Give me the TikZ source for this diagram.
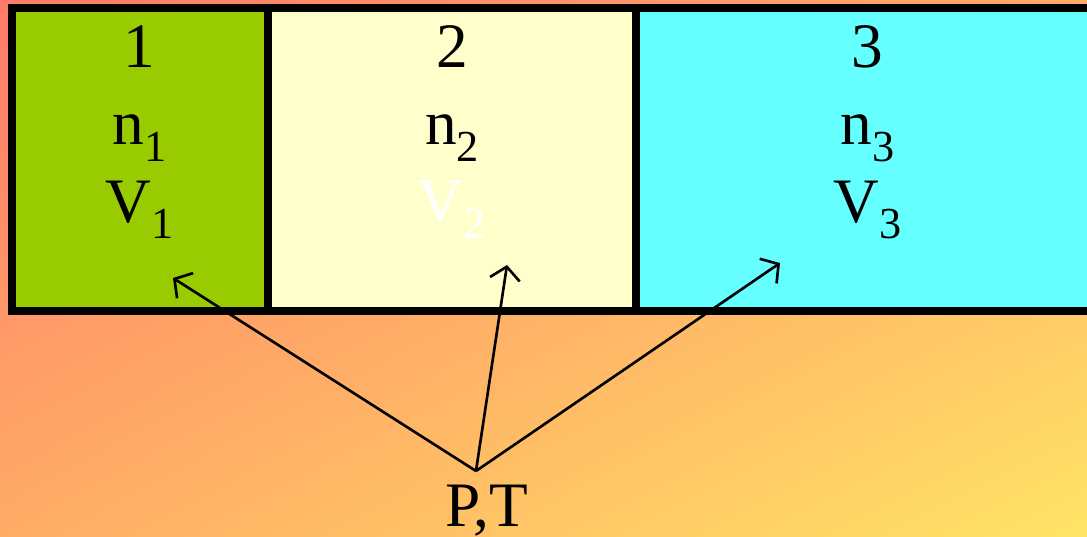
\documentclass[tikz,border=0pt]{standalone}
\usepackage{fontspec}
\setmainfont{Liberation Serif}
\usetikzlibrary{arrows.meta,positioning,shadings}
\definecolor{bgtl}{RGB}{255,122,106}
\definecolor{bgmid}{RGB}{255,172,102}
\definecolor{bgbr}{RGB}{255,228,102}
\definecolor{gasone}{RGB}{153,204,0}
\definecolor{gastwo}{RGB}{255,255,204}
\definecolor{gasthree}{RGB}{102,255,255}
\newcommand{\lowsub}[1]{\raisebox{-4.8pt}{\fontsize{12.6}{12.6}\selectfont #1}}
\tikzset{
  cell/.style={
    draw=black, line width=0.08cm, rectangle,
    minimum height=3.03cm, inner sep=0pt, outer sep=0pt
  },
  lbl/.style={font=\fontsize{18}{18}\selectfont, inner sep=0pt, anchor=base},
  arr/.style={-{Straight Barb[length=3.6pt,width=8.5pt]}, draw=black, line width=0.75pt}
}

\begin{document}
\begin{tikzpicture}[x=0.01cm, y=-0.01cm]
  \shade[upper left=bgtl, lower right=bgbr, upper right=bgmid, lower left=bgmid]
    (0,0) rectangle (1087,537);
  \useasboundingbox (0,0) rectangle (1087,537);

  % three compartments
  \node[cell, fill=gasone, minimum width=2.555cm] (box1) at (139.75,159.5) {};
  \node[cell, fill=gastwo, minimum width=3.685cm, right=0pt of box1] (box2) {};
  \node[cell, fill=gasthree, minimum width=4.62cm, right=0pt of box2] (box3) {};

  \foreach \i/\vc in {1/black,2/white,3/black}{
    \node[lbl] (num\i) at ([yshift=-0.60cm] box\i.north) {\i};
    \node[lbl] (mol\i) at ([yshift=-1.37cm] box\i.north) {n\lowsub{\i}};
    \node[lbl, text=\vc] (vol\i) at ([yshift=-2.14cm] box\i.north) {V\lowsub{\i}};
  }

  % common P,T
  \node[lbl] (pt) at (487,527) {P,T};
  \coordinate (src) at (476,471);
  \coordinate (tip1) at (173,278);
  \coordinate (tip2) at (507,265);
  \coordinate (tip3) at (780,263);

  \draw[arr] (src) -- (tip1);
  \draw[arr] (src) -- (tip2);
  \draw[arr] (src) -- (tip3);
\end{tikzpicture}
\end{document}
